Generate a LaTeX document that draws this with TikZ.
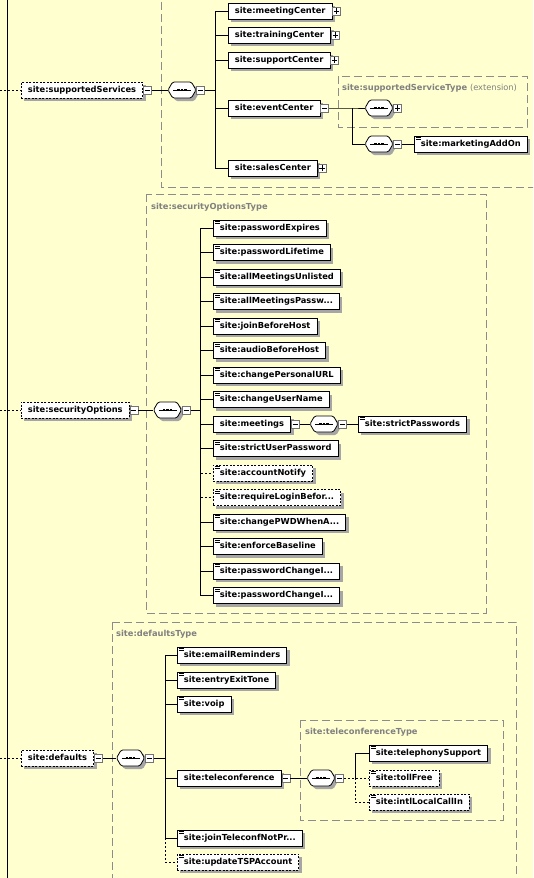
\documentclass[tikz,border=0pt]{standalone}
\usepackage{fontspec}
\setmainfont{DejaVu Sans}
\usetikzlibrary{positioning, shapes.symbols, shadows, backgrounds}

\newcommand{\xsdfont}{\fontsize{8.3}{10}\selectfont\bfseries}
\definecolor{xsdyellow}{RGB}{255,255,208}
\definecolor{xsdgray}{RGB}{128,128,128}

\begin{document}
\begin{tikzpicture}[
    x=1pt, y=-1pt,
    conn/.style={
        draw,
        line width=0.8pt
    },
    optconn/.style={
        conn,
        dash pattern=on 2pt off 2pt
    },
    elem/.style={
        rectangle,
        draw,
        fill=white,
        line width=0.8pt,
        minimum height=16pt,
        inner xsep=6.5pt,
        inner ysep=0pt,
        text height=6.3pt,
        text depth=1.6pt,
        anchor=west,
        font=\xsdfont,
        drop shadow={shadow xshift=3pt, shadow yshift=-3pt, opacity=1, fill=black!35}
    },
    optelem/.style={
        elem,
        dash pattern=on 2pt off 1.5pt
    },
    eqmark/.style={
        path picture={
            \draw[line width=0.7pt, solid]
                ([shift={(2pt,-1.6pt)}]path picture bounding box.north west) -- ++(5pt,0pt)
                ([shift={(2pt,-3.6pt)}]path picture bounding box.north west) -- ++(5pt,0pt);
        }
    },
    simple/.style={elem, eqmark},
    optsimple/.style={optelem, eqmark},
    expbtn/.style={
        rectangle,
        draw=black!55,
        fill=white,
        line width=0.6pt,
        minimum size=8pt,
        inner sep=0pt
    },
    expminus/.style={
        expbtn,
        path picture={
            \draw[black, line width=0.6pt]
                ([xshift=-2.6pt]path picture bounding box.center) -- ([xshift=2.6pt]path picture bounding box.center);
        }
    },
    expplus/.style={
        expbtn,
        path picture={
            \draw[black, line width=0.6pt]
                ([xshift=-2.6pt]path picture bounding box.center) -- ([xshift=2.6pt]path picture bounding box.center)
                ([yshift=-2.6pt]path picture bounding box.center) -- ([yshift=2.6pt]path picture bounding box.center);
        }
    },
    seqcomp/.style={
        signal,
        signal to=west and east,
        signal pointer angle=120,
        draw,
        fill=white,
        line width=0.8pt,
        rounded corners=1.5pt,
        minimum width=28pt,
        minimum height=16pt,
        inner sep=0pt,
        drop shadow={shadow xshift=3pt, shadow yshift=-3pt, opacity=1, fill=black!35},
        path picture={
            \draw[black, line width=0.7pt, sharp corners]
                ([xshift=-9pt]path picture bounding box.center) -- ([xshift=9pt]path picture bounding box.center);
            \foreach \d in {-3.6,0,3.6}
                \fill[black, sharp corners] ([shift={(\d pt-1.2pt,-1.2pt)}]path picture bounding box.center) rectangle ++(2.4pt,2.4pt);
        }
    },
    typebox/.style={
        draw=black!45,
        line width=0.6pt,
        dash pattern=on 8pt off 4pt
    },
    typelabel/.style={
        anchor=west,
        inner sep=0pt,
        font=\xsdfont,
        text=xsdgray
    }
]

    \useasboundingbox (0,0) rectangle (533,878);

    % Root sequence bus
    \coordinate (roottop) at (7,0);
    \coordinate (rootbot) at (7,878);
    \draw[conn, line width=1pt] (roottop) -- (rootbot);

    % supportedServices
    \coordinate (ssin) at (0,90);
    \node[optelem] (ss) at (21,90) {site:supportedServices};
    \node[expminus, right=0pt of ss] (ssbtn) {};
    \node[seqcomp] (ssseq) at (182,90) {};
    \node[expminus, right=0pt of ssseq] (ssseqbtn) {};
    \coordinate (ssbus) at (215,90);

    \node[elem] (mc) at (228,11) {site:meetingCenter};
    \node[expplus, right=0pt of mc] (mcbtn) {};
    \node[elem] (tc) at (228,35) {site:trainingCenter};
    \node[expplus, right=0pt of tc] (tcbtn) {};
    \node[elem] (sc) at (228,60) {site:supportCenter};
    \node[expplus, right=0pt of sc] (scbtn) {};
    \node[elem] (ec) at (228,108) {site:eventCenter};
    \node[expminus, right=0pt of ec] (ecbtn) {};
    \node[elem] (slc) at (228,168) {site:salesCenter};
    \node[expplus, right=0pt of slc] (slcbtn) {};

    % supportedServiceType extension
    \node[typelabel] (ssxlbl) at (342,88) {site:supportedServiceType \textmd{(extension)}};
    \coordinate (ecjn) at (352,108);
    \node[seqcomp] (ext1) at (379,108) {};
    \node[expplus, right=0pt of ext1] (ext1btn) {};
    \node[seqcomp] (ext2) at (379,144) {};
    \node[expminus, right=0pt of ext2] (ext2btn) {};
    \node[simple] (mao) at (414,144) {site:marketingAddOn};

    \draw[optconn] (ssin) -- (ss.west);
    \draw[conn] (ssbtn.east) -- (ssseq.west);
    \draw[conn] (ssseqbtn.east) -- (ssbus);
    \foreach \c in {mc,tc,sc,ec,slc}
        \draw[conn] (ssbus) |- (\c.west);
    \draw[conn] (ecbtn.east) -- (ecjn) -- (ext1.west);
    \draw[conn] (ecjn) |- (ext2.west);
    \draw[conn] (ext2btn.east) -- (mao.west);

    % securityOptions
    \coordinate (soin) at (0,410);
    \node[optelem] (so) at (21,410) {site:securityOptions};
    \node[expminus, right=0pt of so] (sobtn) {};
    \node[seqcomp] (soseq) at (167.5,410) {};
    \node[expminus, right=0pt of soseq] (soseqbtn) {};
    \coordinate (sobus) at (200,410);
    \node[typelabel] (sotlbl) at (151,207) {site:securityOptionsType};

    \node[simple] (pe) at (213,228) {site:passwordExpires};
    \node[simple] (pl) at (213,252.5) {site:passwordLifetime};
    \node[simple] (amu) at (213,277) {site:allMeetingsUnlisted};
    \node[simple] (amp) at (213,301.5) {site:allMeetingsPassw...};
    \node[simple] (jbh) at (213,326) {site:joinBeforeHost};
    \node[simple] (abh) at (213,350.5) {site:audioBeforeHost};
    \node[simple] (cpu) at (213,375) {site:changePersonalURL};
    \node[simple] (cun) at (213,399.5) {site:changeUserName};
    \node[elem] (mtg) at (213,424) {site:meetings};
    \node[expminus, right=0pt of mtg] (mtgbtn) {};
    \node[simple] (sup) at (213,448.5) {site:strictUserPassword};
    \node[optsimple] (an) at (213,473) {site:accountNotify};
    \node[optsimple] (rlb) at (213,497.5) {site:requireLoginBefor...};
    \node[simple] (cpw) at (213,522) {site:changePWDWhenA...};
    \node[simple] (eb) at (213,546.5) {site:enforceBaseline};
    \node[simple] (pc1) at (213,571) {site:passwordChangeI...};
    \node[simple] (pc2) at (213,595.5) {site:passwordChangeI...};

    \node[seqcomp] (mtgseq) at (324,424) {};
    \node[expminus, right=0pt of mtgseq] (mtgseqbtn) {};
    \node[simple] (stp) at (358,424) {site:strictPasswords};

    \draw[optconn] (soin) -- (so.west);
    \draw[conn] (sobtn.east) -- (soseq.west);
    \draw[conn] (soseqbtn.east) -- (sobus);
    \foreach \c in {pe,pl,amu,amp,jbh,abh,cpu,cun,mtg,sup,cpw,eb,pc1,pc2}
        \draw[conn] (sobus) |- (\c.west);
    \foreach \c in {an,rlb}
        \draw[optconn] (sobus) |- (\c.west);
    \draw[conn] (mtgbtn.east) -- (mtgseq.west);
    \draw[conn] (mtgseqbtn.east) -- (stp.west);

    % defaults
    \coordinate (dfin) at (0,758);
    \node[optelem] (df) at (21,758) {site:defaults};
    \node[expminus, right=0pt of df] (dfbtn) {};
    \node[seqcomp] (dfseq) at (130.5,758) {};
    \node[expminus, right=0pt of dfseq] (dfseqbtn) {};
    \coordinate (dfbus) at (165,758);
    \node[typelabel] (dftlbl) at (116,634) {site:defaultsType};

    \node[simple] (er) at (177,655) {site:emailReminders};
    \node[simple] (eet) at (177,680) {site:entryExitTone};
    \node[simple] (vp) at (177,704) {site:voip};
    \node[elem] (tcf) at (177,778) {site:teleconference};
    \node[expminus, right=0pt of tcf] (tcfbtn) {};
    \node[simple] (jtn) at (177,838) {site:joinTeleconfNotPr...};
    \node[optsimple] (uta) at (177,862) {site:updateTSPAccount};

    % teleconferenceType
    \node[typelabel] (tctlbl) at (305,732) {site:teleconferenceType};
    \node[seqcomp] (tcseq) at (321,778) {};
    \node[expminus, right=0pt of tcseq] (tcseqbtn) {};
    \coordinate (tcbus) at (355,778);
    \node[simple] (tel) at (369,753) {site:telephonySupport};
    \node[optsimple] (tf) at (369,778) {site:tollFree};
    \node[optsimple] (ilc) at (369,802) {site:intlLocalCallIn};

    \draw[optconn] (dfin) -- (df.west);
    \draw[conn] (dfbtn.east) -- (dfseq.west);
    \draw[conn] (dfseqbtn.east) -- (dfbus);
    \foreach \c in {er,eet,vp,tcf,jtn}
        \draw[conn] (dfbus) |- (\c.west);
    \draw[optconn] (dfbus) |- (uta.west);
    \draw[conn] (tcfbtn.east) -- (tcseq.west);
    \draw[optconn] (tcseqbtn.east) -- (tf.west);
    \draw[conn] (tcbus) |- (tel.west);
    \draw[optconn] (tcbus) |- (ilc.west);

    % type boxes
    \begin{scope}[on background layer]
        \fill[xsdyellow] (0,0) rectangle (533,878);
        \clip (0,0) rectangle (533,878);
        \draw[typebox] (161,-10) rectangle (545,187);
        \draw[typebox] (338,76) rectangle (527,127);
        \draw[typebox] (146,194) rectangle (486,613);
        \draw[typebox] (112,622) rectangle (516,900);
        \draw[typebox] (300,720) rectangle (503,820);
    \end{scope}

\end{tikzpicture}
\end{document}
